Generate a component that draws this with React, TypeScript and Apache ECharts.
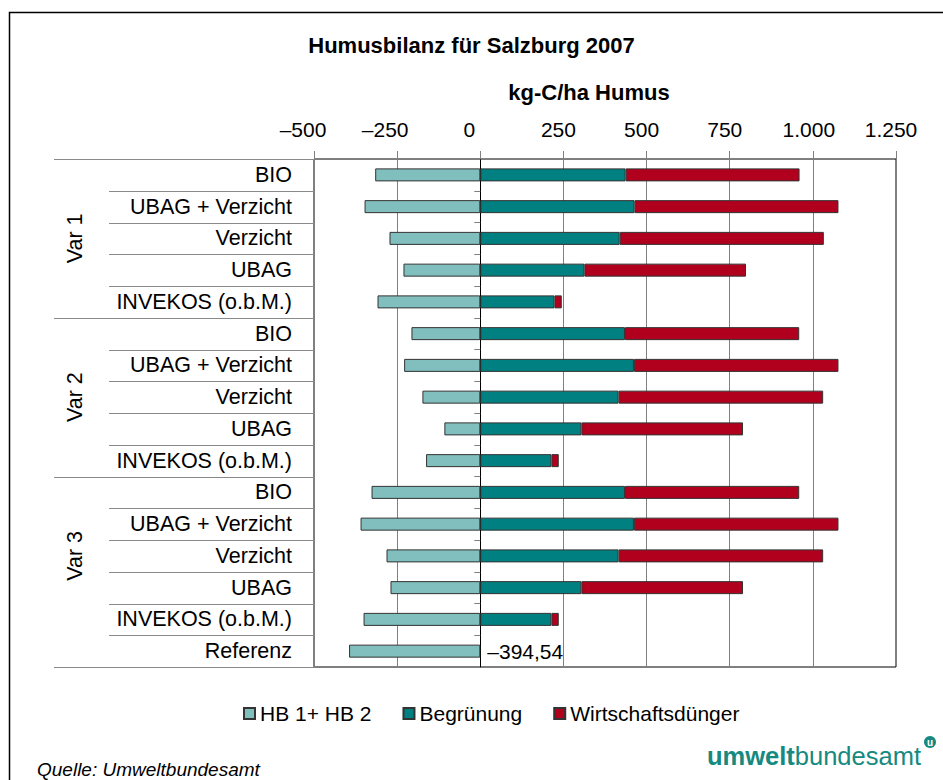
import React, { useEffect, useRef } from 'react';
import * as echarts from 'echarts';

const chartTitle = 'Humusbilanz für Salzburg 2007';
const axisTitle = 'kg-C/ha Humus';
const sourceText = 'Quelle: Umweltbundesamt';
const logoBold = 'umwelt';
const logoRegular = 'bundesamt';

const groups = ['Var 1', 'Var 2', 'Var 3'];
const variants = ['BIO', 'UBAG + Verzicht', 'Verzicht', 'UBAG', 'INVEKOS (o.b.M.)'];
const referenceCategory = 'Referenz';
const seriesNames = ['HB 1+ HB 2', 'Begrünung', 'Wirtschaftsdünger'];

// rows: Var 1 (5), Var 2 (5), Var 3 (5), Referenz
const hb = [-316, -348, -273, -231, -309, -207, -229, -174, -108, -163, -327, -360, -282, -270, -351, -394.54];
const begruenung = [437, 464, 419, 313, 223, 435, 462, 416, 304, 214, 435, 462, 416, 304, 214, null];
const wirtschaftsduenger = [523, 613, 614, 486, 22, 524, 615, 615, 486, 22, 524, 615, 615, 486, 22, null];

const axisTicks = [-500, -250, 0, 250, 500, 750, 1000, 1250];

const FONT = "'Liberation Sans', Arial, sans-serif";
const COLORS = ['#80BFBE', '#008080', '#B0001E'];
const LOGO = '#168A80';

// horizontal shift of each tick label to the left (px)
const labelShift: Record<string, number> = {
  '-500': 11, '-250': 12, '0': 11, '250': 5, '500': 5, '750': 5, '1000': 4, '1250': 5,
};

function fmt(v: number): string {
  const abs = Math.abs(v);
  const isInt = Math.abs(abs - Math.round(abs)) < 1e-9;
  let s: string;
  if (isInt) {
    s = String(Math.round(abs)).replace(/\B(?=(\d{3})+(?!\d))/g, '.');
  } else {
    const [i, d] = abs.toFixed(2).split('.');
    s = i.replace(/\B(?=(\d{3})+(?!\d))/g, '.') + ',' + d;
  }
  return (v < 0 ? '–' : '') + s;
}

export default function App() {
  const ref = useRef<HTMLDivElement>(null);

  useEffect(() => {
    const el = ref.current;
    if (!el) return;
    const chart = echarts.init(el, null, { renderer: 'svg' });

    const keys = [
      ...groups.flatMap((g) => variants.map((v) => `${g}|${v}`)),
      `|${referenceCategory}`,
    ];

    const rich: Record<string, any> = {};
    Object.values(labelShift).forEach((s) => {
      rich['s' + s] = {
        fontSize: 21,
        fontFamily: FONT,
        color: '#000',
        padding: [0, s * 2, 0, 0],
      };
    });

    const barStyle = (i: number) => ({
      color: COLORS[i],
      borderColor: '#333',
      borderWidth: 1,
    });

    const hbData = hb.map((v, i) =>
      i === hb.length - 1
        ? {
            value: v,
            label: {
              show: true,
              position: 'right',
              distance: 7,
              formatter: (p: any) => fmt(p.value),
              fontSize: 21,
              fontFamily: FONT,
              color: '#000',
            },
          }
        : v
    );

    const option: any = {
      animation: false,
      backgroundColor: '#fff',
      title: {
        text: chartTitle,
        left: 'center',
        top: 34,
        padding: 0,
        textStyle: { fontSize: 22, fontWeight: 'bold', color: '#000', fontFamily: FONT },
      },
      legend: {
        data: seriesNames,
        left: 243,
        top: 703,
        padding: 0,
        icon: 'rect',
        itemWidth: 11,
        itemHeight: 11,
        itemGap: 31,
        textStyle: { fontSize: 21, color: '#000', fontFamily: FONT },
      },
      grid: {
        left: 314,
        right: 47,
        top: 159,
        bottom: 113,
        show: true,
        borderColor: '#000',
        borderWidth: 1,
        backgroundColor: 'transparent',
      },
      xAxis: {
        type: 'value',
        position: 'top',
        min: axisTicks[0],
        max: axisTicks[axisTicks.length - 1],
        interval: axisTicks[1] - axisTicks[0],
        axisLine: { show: false },
        axisTick: { show: true, length: 8, lineStyle: { color: '#808080' } },
        splitLine: { show: true, lineStyle: { color: '#808080', width: 1 } },
        axisLabel: {
          margin: 19,
          fontSize: 21,
          fontFamily: FONT,
          color: '#000',
          formatter: (v: number) => `{s${labelShift[String(v)] ?? 0}|${fmt(v)}}`,
          rich,
        },
      },
      yAxis: [
        {
          type: 'category',
          data: keys,
          inverse: true,
          position: 'left',
          axisLine: { show: false, onZero: false },
          axisTick: { show: false },
          splitLine: { show: false },
          axisLabel: {
            margin: 22,
            fontSize: 21.5,
            fontFamily: FONT,
            color: '#000',
            formatter: (s: string) => s.split('|')[1],
          },
        },
        {
          type: 'category',
          data: keys,
          inverse: true,
          position: 'left',
          axisLine: { show: true, onZero: true, lineStyle: { color: '#000', width: 1 } },
          axisTick: { show: true, length: 6, lineStyle: { color: '#808080' } },
          axisLabel: { show: false },
          splitLine: { show: false },
        },
      ],
      series: [
        { name: seriesNames[0], type: 'bar', stack: 'total', barWidth: 13, yAxisIndex: 0, itemStyle: barStyle(0), data: hbData },
        { name: seriesNames[1], type: 'bar', stack: 'total', barWidth: 13, yAxisIndex: 0, itemStyle: barStyle(1), data: begruenung },
        { name: seriesNames[2], type: 'bar', stack: 'total', barWidth: 13, yAxisIndex: 0, itemStyle: barStyle(2), data: wirtschaftsduenger },
      ],
    };

    chart.setOption(option);

    // derive positions of category bands from the axis
    const centers = keys.map((_, i) => chart.convertToPixel({ yAxisIndex: 0 }, i) as number);
    const band = Math.abs(centers[1] - centers[0]);
    const bounds: number[] = centers.map((c) => c - band / 2);
    bounds.push(centers[centers.length - 1] + band / 2);
    const xLeft = chart.convertToPixel({ xAxisIndex: 0 }, axisTicks[0]) as number;
    const nGroupRows = groups.length * variants.length;

    const graphics: any[] = [];
    graphics.push({
      type: 'rect',
      shape: { x: 9.5, y: 12.5, width: 1000, height: 1000 },
      style: { fill: 'none', stroke: '#000', lineWidth: 1.5 },
      silent: true,
    });
    bounds.forEach((b, i) => {
      const outer = (i % variants.length === 0 && i < nGroupRows) || i === bounds.length - 1;
      const y = Math.round(b) + 0.5;
      graphics.push({
        type: 'line',
        shape: { x1: outer ? 54 : 109, y1: y, x2: xLeft, y2: y },
        style: { stroke: '#8a8a8a', lineWidth: 1 },
        silent: true,
      });
    });
    groups.forEach((g, gi) => {
      const yc = (bounds[gi * variants.length] + bounds[(gi + 1) * variants.length]) / 2;
      graphics.push({
        type: 'text',
        x: 75,
        y: yc,
        rotation: Math.PI / 2,
        style: {
          text: g,
          align: 'center',
          verticalAlign: 'middle',
          fontSize: 21.5,
          fontFamily: FONT,
          fill: '#000',
        },
        silent: true,
      });
    });
    graphics.push({
      type: 'text',
      x: 589,
      y: 92,
      style: {
        text: axisTitle,
        align: 'center',
        verticalAlign: 'middle',
        fontSize: 22,
        fontWeight: 'bold',
        fontFamily: FONT,
        fill: '#000',
      },
      silent: true,
    });
    graphics.push({
      type: 'text',
      x: 37,
      y: 769,
      style: {
        text: sourceText,
        align: 'left',
        verticalAlign: 'middle',
        fontSize: 19,
        fontStyle: 'italic',
        fontFamily: FONT,
        fill: '#000',
      },
      silent: true,
    });
    graphics.push({
      type: 'text',
      x: 707,
      y: 756,
      style: {
        text: `{b|${logoBold}}{r|${logoRegular}}`,
        align: 'left',
        verticalAlign: 'middle',
        rich: {
          b: { fontSize: 25.5, fontWeight: 'bold', fontFamily: FONT, fill: LOGO, color: LOGO },
          r: { fontSize: 25.5, fontWeight: 'normal', fontFamily: FONT, fill: LOGO, color: LOGO },
        },
      },
      silent: true,
    });
    graphics.push({
      type: 'circle',
      shape: { cx: 930, cy: 742, r: 6 },
      style: { fill: LOGO },
      silent: true,
    });
    graphics.push({
      type: 'text',
      x: 930,
      y: 742,
      style: {
        text: 'u',
        align: 'center',
        verticalAlign: 'middle',
        fontSize: 10,
        fontWeight: 'bold',
        fontFamily: FONT,
        fill: '#fff',
      },
      silent: true,
    });

    chart.setOption({ graphic: graphics });

    return () => chart.dispose();
  }, []);

  return (
    <div
      ref={ref}
      style={{ position: 'absolute', left: 0, top: 0, width: 943, height: 780, background: '#fff' }}
    />
  );
}
